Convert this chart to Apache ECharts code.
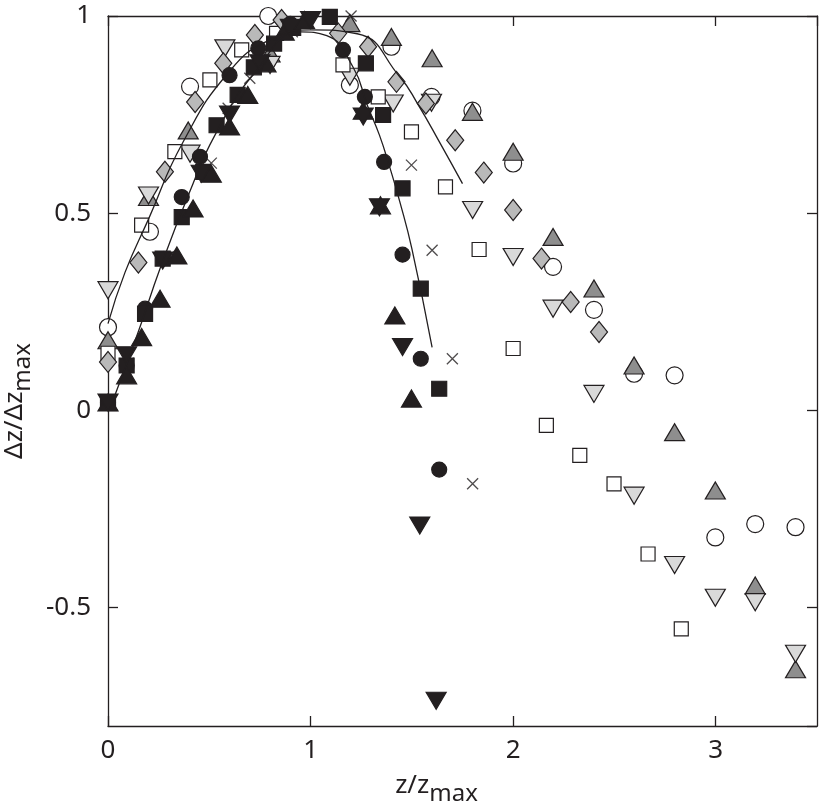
<!DOCTYPE html>
<html>
<head>
<meta charset="utf-8">
<script src="https://cdn.jsdelivr.net/npm/echarts@6/dist/echarts.min.js"></script>
<style>
  html, body { margin: 0; padding: 0; background: #fff; }
  #chart { width: 832px; height: 806px; }
</style>
</head>
<body>
<div id="chart"></div>
<script>
// x ticks / y ticks
const xTicks = [0, 1, 2, 3];
const yTicks = [-0.5, 0, 0.5, 1];

// open circles
const openCircle = [
  [0, 0.211], [0.207, 0.453], [0.405, 0.821], [0.791, 1.0], [1.194, 0.825],
  [1.399, 0.922], [1.597, 0.795], [1.799, 0.76], [2.0, 0.626], [2.197, 0.364],
  [2.399, 0.255], [2.597, 0.093], [2.797, 0.089], [2.998, -0.322],
  [3.195, -0.288], [3.394, -0.296]
];
// open squares
const openSquare = [
  [0, 0.145], [0.166, 0.47], [0.33, 0.656], [0.503, 0.838], [0.66, 0.914],
  [0.832, 0.956], [1.16, 0.876], [1.334, 0.795], [1.498, 0.706], [1.666, 0.567],
  [1.832, 0.408], [2.0, 0.157], [2.164, -0.038], [2.329, -0.114],
  [2.498, -0.186], [2.666, -0.364], [2.83, -0.554]
];
// light grey triangles (down)
const greyDown = [
  [0, 0.305], [0.2, 0.545], [0.405, 0.651], [0.577, 0.918], [0.8, 0.876],
  [1.194, 0.846], [1.408, 0.778], [1.597, 0.78], [1.8, 0.508], [2.0, 0.389],
  [2.197, 0.258], [2.399, 0.042], [2.597, -0.216], [2.797, -0.392],
  [2.998, -0.475], [3.195, -0.486], [3.394, -0.617]
];
// dark grey triangles (up)
const greyUp = [
  [0, 0.178], [0.2, 0.541], [0.396, 0.71], [0.8, 0.905], [1.194, 0.982],
  [1.399, 0.947], [1.6, 0.893], [1.799, 0.757], [2.0, 0.656], [2.197, 0.44],
  [2.399, 0.309], [2.597, 0.114], [2.797, -0.055], [2.998, -0.203],
  [3.195, -0.444], [3.394, -0.656]
];
// grey diamonds
const greyDiamond = [
  [0, 0.123], [0.15, 0.375], [0.281, 0.605], [0.43, 0.782], [0.569, 0.88],
  [0.725, 0.952], [0.857, 0.99], [1.136, 0.956], [1.284, 0.922], [1.424, 0.833],
  [1.569, 0.778], [1.714, 0.685], [1.855, 0.603], [2.0, 0.508], [2.14, 0.385],
  [2.284, 0.275], [2.424, 0.199]
];
// crosses
const cross = [
  [0, 0.02], [0.1, 0.12], [0.3, 0.39], [0.51, 0.627], [0.593, 0.766],
  [0.7, 0.842], [0.91, 0.96], [1.2, 1.0], [1.498, 0.622], [1.6, 0.406],
  [1.7, 0.131], [1.8, -0.186]
];
// black circles
const blackCircle = [
  [0, 0.02], [0.092, 0.114], [0.183, 0.258], [0.364, 0.541], [0.454, 0.643],
  [0.6, 0.85], [0.742, 0.918], [0.9, 0.98], [1.16, 0.914], [1.268, 0.795],
  [1.363, 0.63], [1.454, 0.395], [1.544, 0.131], [1.635, -0.15]
];
// black squares
const blackSquare = [
  [0, 0.02], [0.092, 0.114], [0.183, 0.245], [0.27, 0.385], [0.364, 0.49],
  [0.47, 0.605], [0.536, 0.723], [0.64, 0.8], [0.72, 0.87], [0.82, 0.93],
  [0.914, 0.97], [1.095, 0.998], [1.273, 0.88], [1.358, 0.749], [1.454, 0.563],
  [1.544, 0.309], [1.635, 0.055]
];
// black triangles (up)
const blackUp = [
  [0, 0.02], [0.092, 0.089], [0.166, 0.186], [0.257, 0.283], [0.34, 0.393],
  [0.42, 0.512], [0.51, 0.6], [0.6, 0.72], [0.69, 0.8], [0.78, 0.88],
  [0.87, 0.96], [0.97, 0.99], [1.26, 0.76], [1.345, 0.52], [1.416, 0.241],
  [1.498, 0.03]
];
// black triangles (down)
const blackDown = [
  [0, 0.02], [0.092, 0.14], [0.27, 0.38], [0.46, 0.6], [0.6, 0.75],
  [0.75, 0.88], [0.9, 0.97], [1.0, 0.99], [1.26, 0.745], [1.34, 0.515],
  [1.454, 0.161], [1.539, -0.292], [1.62, -0.736]
];
// fitted curves
const curveOuter = [
  [0, 0.22], [0.084, 0.35], [0.2, 0.485], [0.37, 0.68], [0.6, 0.86],
  [0.8, 0.94], [1.0, 0.965], [1.23, 0.955], [1.44, 0.846], [1.53, 0.776],
  [1.64, 0.677], [1.75, 0.575]
];
const curveInner = [
  [0.035, 0.04], [0.15, 0.2], [0.257, 0.36], [0.4, 0.55], [0.53, 0.7],
  [0.73, 0.86], [0.95, 0.96], [1.08, 0.95], [1.21, 0.87], [1.28, 0.774],
  [1.34, 0.698], [1.39, 0.618], [1.44, 0.53], [1.5, 0.41], [1.6, 0.16]
];

const ink = "#231f20";
const font = "Noto Sans";
const chart = echarts.init(document.getElementById("chart"));

const baseAxis = {
  axisLine: { show: true, onZero: false, lineStyle: { color: ink, width: 1.3 } },
  axisTick: { show: true, inside: true, length: 10, lineStyle: { color: ink, width: 1.3 } },
  splitLine: { show: false }
};

function scatter(data, symbol, size, fill, extra) {
  return Object.assign({
    type: "scatter",
    data: data,
    symbol: symbol,
    symbolSize: size,
    itemStyle: { color: fill, borderColor: ink, borderWidth: 1.2, opacity: 1 },
    emphasis: { disabled: true },
    z: 3
  }, extra || {});
}

function curve(data) {
  return {
    type: "line",
    data: data,
    smooth: true,
    showSymbol: false,
    lineStyle: { color: ink, width: 1.3 },
    z: 5
  };
}

const option = {
  animation: false,
  backgroundColor: "#fff",
  grid: {
    left: 108, right: 15, top: 16, bottom: 80,
    containLabel: false, outerBoundsMode: "none"
  },
  xAxis: [
    Object.assign({}, baseAxis, {
      type: "value", min: 0, max: 3.5, interval: 1, position: "bottom",
      axisLabel: {
        color: ink, fontFamily: font, fontSize: 26, margin: 12,
        showMaxLabel: false,
        formatter: v => (xTicks.indexOf(v) >= 0 ? String(v) : "")
      },
      name: "z/z{s|max}",
      nameLocation: "middle",
      nameGap: 40,
      nameTextStyle: {
        color: ink, fontFamily: font, fontSize: 26, padding: [0, 52, 0, 0],
        rich: { s: { fontFamily: font, fontSize: 24, color: ink, padding: [16, 0, 0, 0] } }
      }
    }),
    Object.assign({}, baseAxis, {
      type: "value", min: 0, max: 3.5, interval: 1, position: "top",
      axisLabel: { show: false }
    })
  ],
  yAxis: [
    Object.assign({}, baseAxis, {
      type: "value", min: -0.8, max: 1, splitNumber: 4, position: "left",
      axisLabel: {
        color: ink, fontFamily: font, fontSize: 26, margin: 17,
        showMinLabel: false,
        formatter: v => (yTicks.indexOf(v) >= 0 ? String(v) : "")
      },
      name: "\u0394z/\u0394z{s|max}",
      nameLocation: "middle",
      nameRotate: 90,
      nameGap: 52,
      nameTextStyle: {
        color: ink, fontFamily: font, fontSize: 26, padding: [0, 60, 0, 0],
        rich: { s: { fontFamily: font, fontSize: 24, color: ink, padding: [16, 0, 0, 0] } }
      }
    }),
    Object.assign({}, baseAxis, {
      type: "value", min: -0.8, max: 1, splitNumber: 4, position: "right",
      axisLabel: { show: false }
    })
  ],
  series: [
    scatter(openCircle, "circle", 17, "#ffffff"),
    scatter(greyUp, "triangle", [20, 17], "#8e8e8e"),
    scatter(greyDown, "triangle", [20, 17], "#d9d9d9", { symbolRotate: 180 }),
    scatter(openSquare, "rect", 14, "#ffffff"),
    scatter(greyDiamond, "diamond", [17, 21], "#b9b9b9"),
    scatter(cross, "path://M0,0L10,10M10,0L0,10", 11, "none", {
      itemStyle: { color: "none", borderColor: ink, borderWidth: 1.3 }
    }),
    scatter(blackCircle, "circle", 15, ink),
    scatter(blackSquare, "rect", 15, ink),
    scatter(blackUp, "triangle", [20, 17], ink),
    scatter(blackDown, "triangle", [20, 17], ink, { symbolRotate: 180 }),
    curve(curveOuter),
    curve(curveInner)
  ]
};

chart.setOption(option);
</script>
</body>
</html>
